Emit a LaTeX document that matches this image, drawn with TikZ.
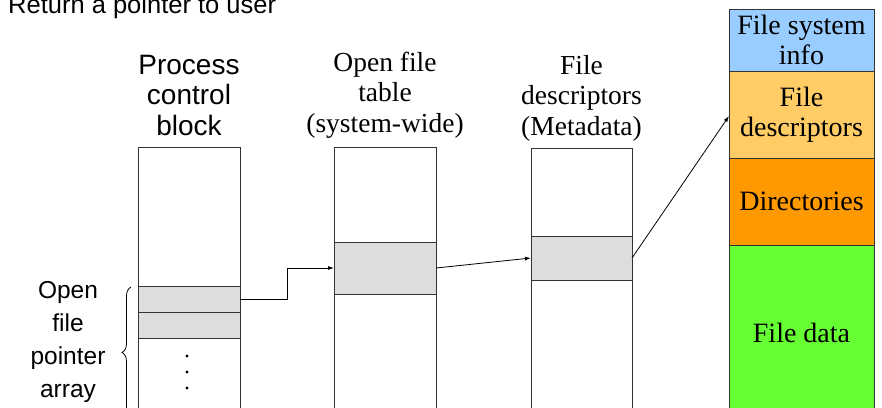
\documentclass[tikz,border=0pt]{standalone}
\usepackage{fontspec}
\setmainfont{Liberation Serif}
\setsansfont{Liberation Sans}
\usetikzlibrary{arrows.meta,decorations.pathreplacing}
\definecolor{fsblue}{HTML}{99CCFF}
\definecolor{fdyellow}{HTML}{FFCC66}
\definecolor{dirorange}{HTML}{FF9900}
\definecolor{datagreen}{HTML}{66FF33}
\definecolor{cellgrey}{HTML}{DDDDDD}
\tikzset{
  col/.style={draw=black!80, line width=0.8pt, minimum width=#1, inner sep=0pt, outer sep=0pt},
  cell/.style={draw=black!80, line width=0.8pt, fill=cellgrey, minimum width=102pt, minimum height=#1, inner sep=0pt, outer sep=0pt},
  stack/.style={draw=black!80, line width=0.8pt, minimum width=145pt, minimum height=#1, inner sep=0pt, outer sep=0pt, align=center,
    font=\fontsize{28}{30}\selectfont},
  sanslabel/.style={align=center, inner sep=0pt, font=\sffamily\fontsize{28}{30.5}\selectfont},
  seriflabel/.style={align=center, inner sep=0pt, font=\fontsize{27.5}{30.5}\selectfont},
  link/.style={draw=black, line width=0.8pt, -{Latex[length=6pt,width=4pt]}},
}
\begin{document}
\begin{tikzpicture}[x=1pt,y=-1pt]
\useasboundingbox (0,0) rectangle (882,407);
% columns
\node[col=102pt, minimum height=273pt] (pcb) at (189,283.5) {};
\node[col=102pt, minimum height=273pt] (oft) at (385,283.5) {};
\node[col=101pt, minimum height=272pt] (fdc) at (581.5,284) {};
% grey cells
\node[cell=26pt] (r1) at (189,299) {};
\node[cell=26pt] (r2) at (189,325) {};
\node[cell=52pt] (oftcell) at (385,268) {};
\node[cell=44pt, minimum width=101pt] (fdcell) at (581.5,258) {};
% dots
\fill (187,356) circle (1.7);
\fill (187,372) circle (1.7);
\fill (187,388) circle (1.7);
% right stack
\node[stack=62pt, fill=fsblue] (fsinfo) at (801.5,40) {File system\\info};
\node[stack=87pt, fill=fdyellow] (fdesc) at (801.5,114.5) {File\\descriptors};
\node[stack=87pt, fill=dirorange] (dirs) at (801.5,201.5) {Directories};
\node[stack=175pt, fill=datagreen] (fdata) at (801.5,332.5) {File data};
% labels
\node[sanslabel, anchor=base] (pcblab) at (189,135) {Process\\control\\block};
\node[seriflabel, anchor=base] (oftlab) at (385,132) {Open file\\table\\(system-wide)};
\node[seriflabel, anchor=base] (fdlab) at (581.5,135) {File\\descriptors\\(Metadata)};
\node[anchor=base west, inner sep=0pt, font=\sffamily\fontsize{25.5}{28}\selectfont] (ret) at (8,13) {Return a pointer to user};
\node[align=center, inner sep=0pt, anchor=base, font=\sffamily\fontsize{24.5}{33}\selectfont] (ofpa) at (68,397) {Open\\file\\pointer\\array};
% brace
\coordinate (bb) at (131,418);
\coordinate (bt) at (131,287);
\draw[line width=0.8pt, decorate, decoration={brace, amplitude=9pt}] (bb) -- (bt);
% connectors
\draw[link] (r1.east) -- ++(47,0) |- (oftcell.west);
\draw[link] (oftcell.east) -- (fdcell.west);
\draw[link] (fdcell.east) -- ([yshift=-1.5pt]fdesc.west);
\end{tikzpicture}
\end{document}
